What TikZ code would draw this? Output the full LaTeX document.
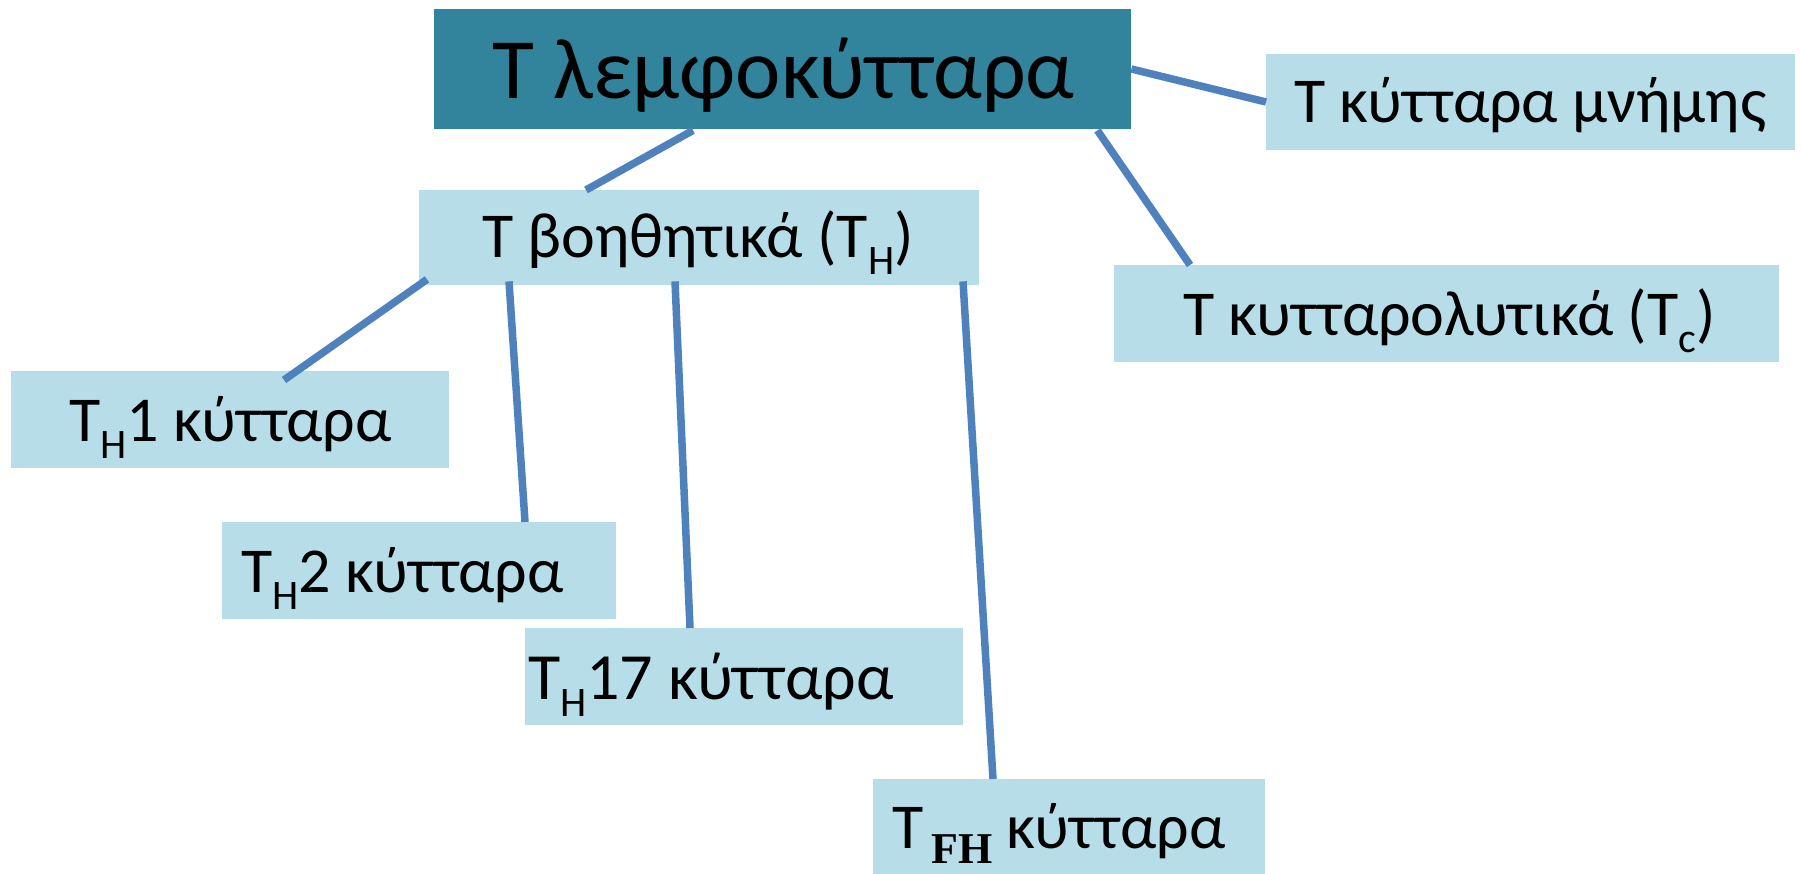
\documentclass[tikz,border=0pt]{standalone}
\usepackage{fontspec}
\setmainfont{Carlito}
\newfontfamily\fhfont{Liberation Serif}
\usetikzlibrary{calc}
\definecolor{topfill}{RGB}{49,132,155}
\definecolor{boxfill}{RGB}{183,222,232}
\definecolor{linkcol}{RGB}{79,129,189}
% lowered subscripts in the labels
\newcommand\lowsub[1]{\raisebox{-17pt}{\fontsize{42}{42}\selectfont #1}}
\newcommand\fhsub{\raisebox{-15pt}{\fontsize{44}{44}\selectfont\fhfont\bfseries FH}}
\tikzset{
  topbox/.style={fill=topfill, draw=none, inner sep=0pt, anchor=north west},
  cellbox/.style={fill=boxfill, draw=none, inner sep=0pt, anchor=north west},
  label/.style={inner sep=0pt, anchor=base west, font=\fontsize{64}{64}\selectfont},
  biglabel/.style={inner sep=0pt, anchor=base west, font=\fontsize{86}{86}\selectfont},
  link/.style={draw=linkcol, line width=7.5pt}
}
\begin{document}
\begin{tikzpicture}[x=1pt,y=-1pt]
\useasboundingbox (0,0) rectangle (1801,874);
% boxes
\node[topbox, minimum width=697pt, minimum height=120pt] (top) at (434,9) {};
\node[cellbox, minimum width=529pt, minimum height=96pt] (mem) at (1266,54) {};
\node[cellbox, minimum width=560pt, minimum height=95pt] (bh) at (419,190) {};
\node[cellbox, minimum width=665pt, minimum height=97pt] (tc) at (1114,265) {};
\node[cellbox, minimum width=438pt, minimum height=97pt] (th1) at (11,371) {};
\node[cellbox, minimum width=394pt, minimum height=97pt] (th2) at (222,522) {};
\node[cellbox, minimum width=438pt, minimum height=97pt] (th17) at (525,628) {};
\node[cellbox, minimum width=392pt, minimum height=95pt] (tfh) at (873,779) {};
% connectors
\draw[link] ($(top.south west)+(259,1)$) -- ($(bh.north west)+(167,0)$);
\draw[link] ($(top.north east)+(0,60)$) -- ($(mem.north west)+(0,48)$);
\draw[link] ($(top.south east)+(-34,1)$) -- ($(tc.north west)+(76,0)$);
\draw[link] ($(bh.south west)+(8,-6)$) -- ($(th1.north west)+(273,9)$);
\draw[link] ($(bh.south west)+(90,-4)$) -- ($(th2.north west)+(303,0)$);
\draw[link] ($(bh.south west)+(256,-4)$) -- ($(th17.north west)+(165,0)$);
\draw[link] ($(bh.south west)+(544,-4)$) -- ($(tfh.north west)+(120,0)$);
% labels
\node[biglabel] (ttop) at (492,99) {T λεμφοκύτταρα};
\node[label] (tmem) at (1294,123) {T κύτταρα μνήμης};
\node[label] (tbh) at (482,258) {T βοηθητικά (T\lowsub{H})};
\node[label] (ttc) at (1183,336) {T κυτταρολυτικά (T\lowsub{c})};
\node[label] (tth1) at (69,441) {T\lowsub{H}1 κύτταρα};
\node[label] (tth2) at (241,592) {T\lowsub{H}2 κύτταρα};
\node[label, font=\fontsize{66}{66}\selectfont] (tth17) at (528,699) {T\lowsub{H}17 κύτταρα};
\node[label] (ttfh) at (892,848) {T\hspace{8pt}\fhsub{} κύτταρα};
\end{tikzpicture}
\end{document}
